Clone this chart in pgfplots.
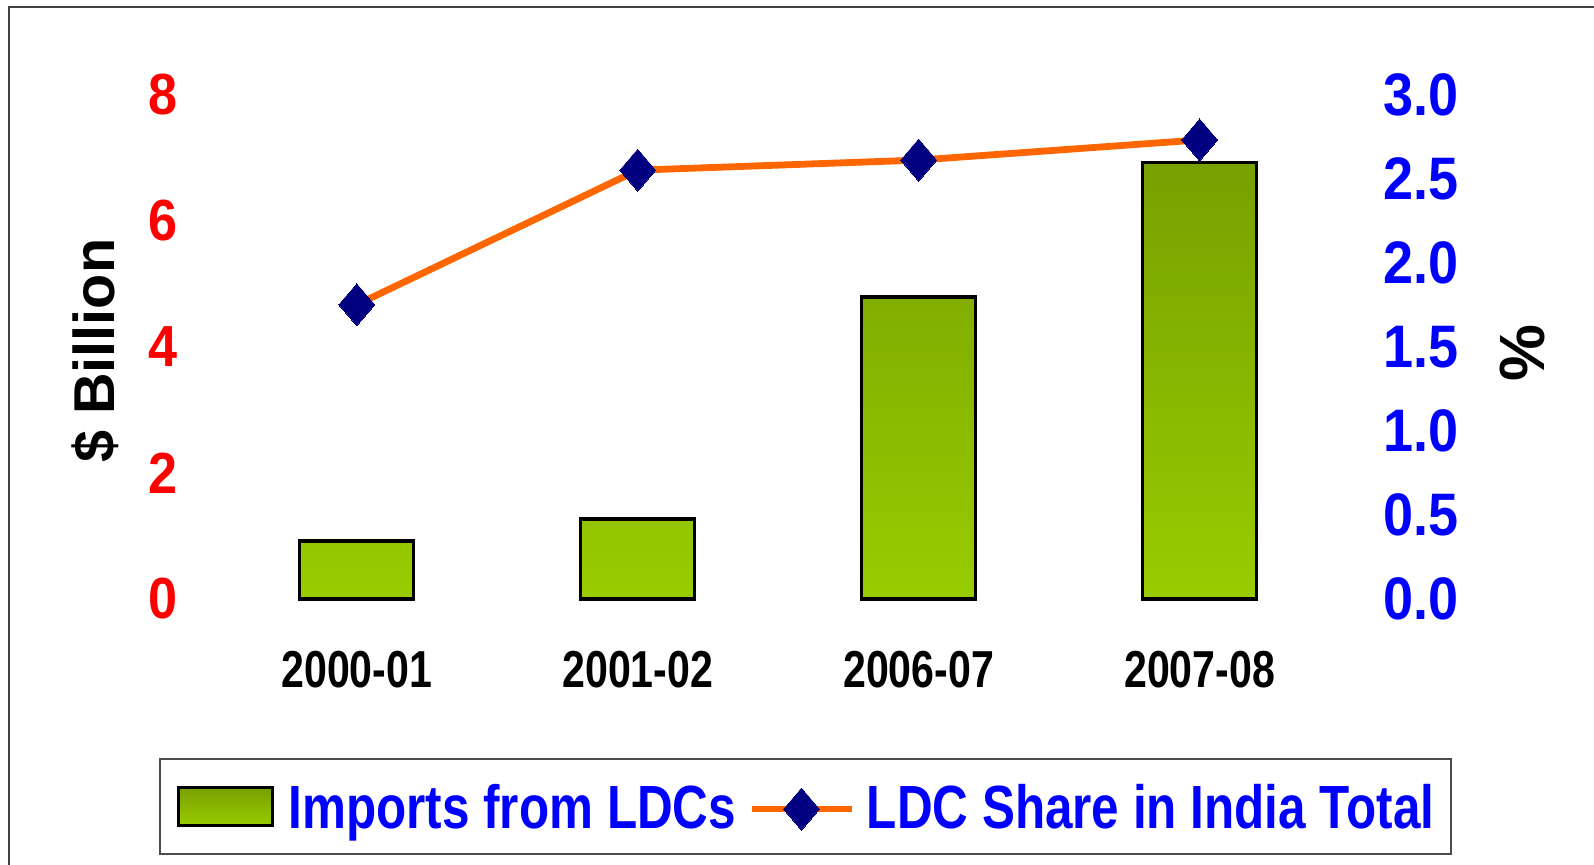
\documentclass[border=0pt]{standalone}
\usepackage{fontspec}
\setmainfont{Liberation Sans}
\newfontfamily\tickfont{Liberation Sans}[FakeStretch=0.9]
\newfontfamily\narrowfont{Liberation Sans}[FakeStretch=0.79]
\newfontfamily\legfont{Liberation Sans}[FakeStretch=0.81]
\usepackage{pgfplots}
\pgfplotsset{compat=1.18}
\definecolor{bartop}{HTML}{78A000}
\definecolor{barbot}{HTML}{99CC00}
\definecolor{lineor}{HTML}{FF6600}
\definecolor{navyd}{HTML}{000080}
\definecolor{tickred}{HTML}{FF0000}
\definecolor{tickblue}{HTML}{0000FF}
\begin{document}
\begin{tikzpicture}
\useasboundingbox (0,0) rectangle (398.5pt,216.25pt);
\draw[color=black!75, line width=0.4pt] (2.25pt,-5pt) -- (2.25pt,214.5pt) -- (405pt,214.5pt);
\begin{axis}[
  at={(47.05pt,66.5pt)}, anchor=south west,
  width=295pt, height=126.125pt, scale only axis,
  xmin=-0.6, xmax=3.6, ymin=0, ymax=8,
  axis x line*=bottom, axis y line*=left,
  axis line style={draw=none},
  major tick length=0pt,
  xtick={0,1,2,3},
  xticklabels={2000-01,2001-02,2006-07,2007-08},
  ytick={0,2,4,6,8},
  /pgf/number format/assume math mode=true,
  yticklabel style={font=\tickfont\bfseries\fontsize{14.5}{15}\selectfont, text=tickred, anchor=east, inner sep=0pt, xshift=-2.5pt},
  xticklabel style={font=\narrowfont\bfseries\fontsize{13}{14}\selectfont, text=black, anchor=center, inner sep=0pt, yshift=-17.6pt},
  ylabel={\$ Billion},
  every axis y label/.style={at={(axis description cs:-0.079,0.492)}, rotate=90, anchor=center, font=\bfseries\fontsize{14.4}{15}\selectfont},
  clip=false,
  legend columns=2,
  legend style={at={(axis description cs:0.5231,-0.4117)}, anchor=center,
    draw=black!70, line width=0.5pt, inner xsep=4.2pt, inner ysep=4.8pt,
    column sep=0pt,
    cells={anchor=base west},
    nodes={inner sep=0pt, text height=12.6pt, text depth=1.6pt, font=\legfont\bfseries\fontsize{15.25}{16}\selectfont, text=tickblue}},
]
\addplot[ybar, bar width=28.5pt, bar shift=0pt, draw=black, line width=0.8pt,
  top color=bartop, bottom color=barbot,
  legend image code/.code={
    \draw[draw=black, line width=0.8pt, top color=bartop, bottom color=barbot] (0pt,0.75pt) rectangle (23.5pt,10.25pt);
    \path (27.2pt,0pt);
  }]
  coordinates {(0,0.92) (1,1.27) (2,4.79) (3,6.92)};
\addlegendentry{Imports from LDCs}
\addlegendimage{legend image code/.code={
    \draw[color=lineor, line width=1.7pt] (3.6pt,4.9pt) -- (28.6pt,4.9pt);
    \path (0pt,0pt) (32.2pt,0pt);
    \draw[draw=none, mark=diamond*, mark size=5.25pt, mark options={fill=navyd, draw=navyd, line width=0pt, xscale=1.14}] plot coordinates {(16.1pt,4.9pt)};
  }}
\addlegendentry{LDC Share in India Total}
\end{axis}
\begin{axis}[
  at={(47.05pt,66.5pt)}, anchor=south west,
  width=295pt, height=126.125pt, scale only axis,
  xmin=-0.6, xmax=3.6, ymin=0, ymax=3,
  axis x line=none, axis y line*=right,
  axis line style={draw=none},
  major tick length=0pt,
  ytick={0,0.5,1,1.5,2,2.5,3},
  /pgf/number format/assume math mode=true,
  yticklabel style={/pgf/number format/.cd, fixed, fixed zerofill, precision=1, /tikz/.cd, font=\tickfont\bfseries\fontsize{15}{16}\selectfont, text=tickblue, anchor=west, inner sep=0pt, xshift=3.6pt},
  ylabel={\%},
  every axis y label/.style={at={(axis description cs:1.131,0.488)}, rotate=90, anchor=center, font=\bfseries\fontsize{16}{17}\selectfont},
  clip=false,
]
\addplot[color=lineor, line width=1.7pt, mark=diamond*, mark size=5.25pt,
  mark options={fill=navyd, draw=navyd, line width=0pt, xscale=1.14}]
  coordinates {(0,1.75) (1,2.55) (2,2.61) (3,2.73)};
\end{axis}
\end{tikzpicture}
\end{document}
